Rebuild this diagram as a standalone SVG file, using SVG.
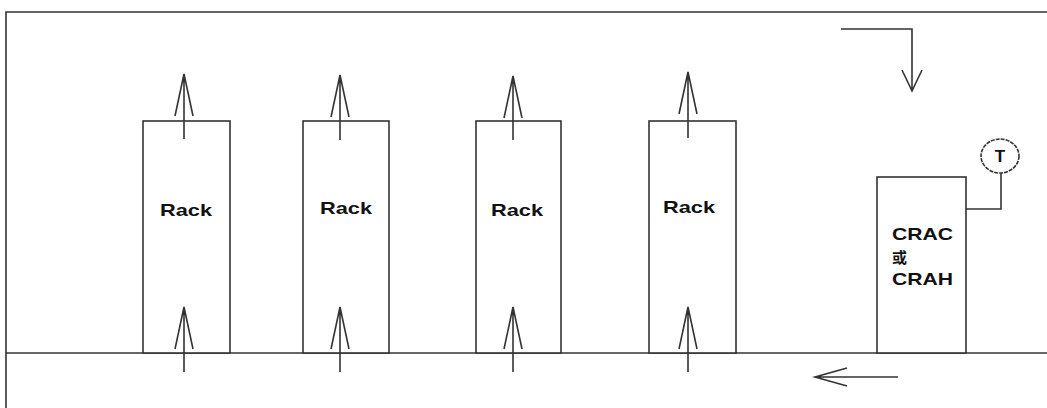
<svg xmlns="http://www.w3.org/2000/svg" width="1047" height="408" viewBox="0 0 1047 408">
  <style>
    .ln { fill: none; stroke: #333; stroke-width: 1.6; }
    .box { fill: #fff; stroke: #333; stroke-width: 1.6; }
    .lbl { font-family: "Liberation Sans", Arial, sans-serif; font-weight: bold; font-size: 17px; fill: #111; }
    .cjk { font-family: "Liberation Sans", "Noto Sans CJK SC", sans-serif; font-weight: bold; font-size: 15px; fill: #111; }
  </style>
  <rect width="1047" height="408" fill="#fff"/>

  <!-- room outline and raised floor -->
  <g id="room">
    <path class="ln" d="M6 408 V12 H1047" stroke-width="2"/>
    <path class="ln" d="M6 353 H1047" stroke-width="2"/>
  </g>

  <g id="rack1">
    <rect class="box" x="143" y="121" width="87" height="232"/>
    <text class="lbl" x="160" y="216" textLength="52" lengthAdjust="spacingAndGlyphs">Rack</text>
  </g>
  <g id="rack2">
    <rect class="box" x="303" y="121" width="86" height="232"/>
    <text class="lbl" x="320" y="214" textLength="52" lengthAdjust="spacingAndGlyphs">Rack</text>
  </g>
  <g id="rack3">
    <rect class="box" x="476" y="121" width="85" height="232"/>
    <text class="lbl" x="491" y="216" textLength="52" lengthAdjust="spacingAndGlyphs">Rack</text>
  </g>
  <g id="rack4">
    <rect class="box" x="649" y="121" width="87" height="232"/>
    <text class="lbl" x="663" y="213" textLength="52" lengthAdjust="spacingAndGlyphs">Rack</text>
  </g>

  <g id="crac">
    <rect class="box" x="877" y="177" width="89" height="176"/>
    <text class="lbl" x="892" y="240" textLength="61" lengthAdjust="spacingAndGlyphs">CRAC</text>
    <text class="cjk" x="892" y="263">或</text>
    <text class="lbl" x="892" y="285" textLength="61" lengthAdjust="spacingAndGlyphs">CRAH</text>
  </g>

  <g id="sensor">
    <ellipse class="ln" cx="1000" cy="156" rx="19" ry="17" stroke-dasharray="4 1"/>
    <text class="lbl" x="1000" y="162" text-anchor="middle" font-size="16">T</text>
  </g>

  <!-- airflow arrows and sensor lead -->
  <g id="connectors">
    <path class="ln" d="M1001 173 V209 H966"/>

    <!-- exhaust above racks -->
    <path class="ln" d="M184 139 V74 M175 116 L184 74 L193 116"/>
    <path class="ln" d="M340 140 V75 M331 117 L340 75 L349 117"/>
    <path class="ln" d="M513 140 V76 M504 118 L513 76 L522 118"/>
    <path class="ln" d="M688 138 V72 M679 114 L688 72 L697 114"/>

    <!-- supply from underfloor -->
    <path class="ln" d="M184 372 V307 M175 349 L184 307 L193 349"/>
    <path class="ln" d="M340 372 V307 M331 349 L340 307 L349 349"/>
    <path class="ln" d="M513 372 V307 M504 349 L513 307 L522 349"/>
    <path class="ln" d="M688 372 V307 M679 349 L688 307 L697 349"/>

    <!-- return air into unit -->
    <path class="ln" d="M841 29 H912 V91 M902 70 L912 91 L922 70"/>

    <!-- underfloor supply -->
    <path class="ln" d="M898 377 H815 M847 368 L815 377 L847 386"/>
  </g>
</svg>
